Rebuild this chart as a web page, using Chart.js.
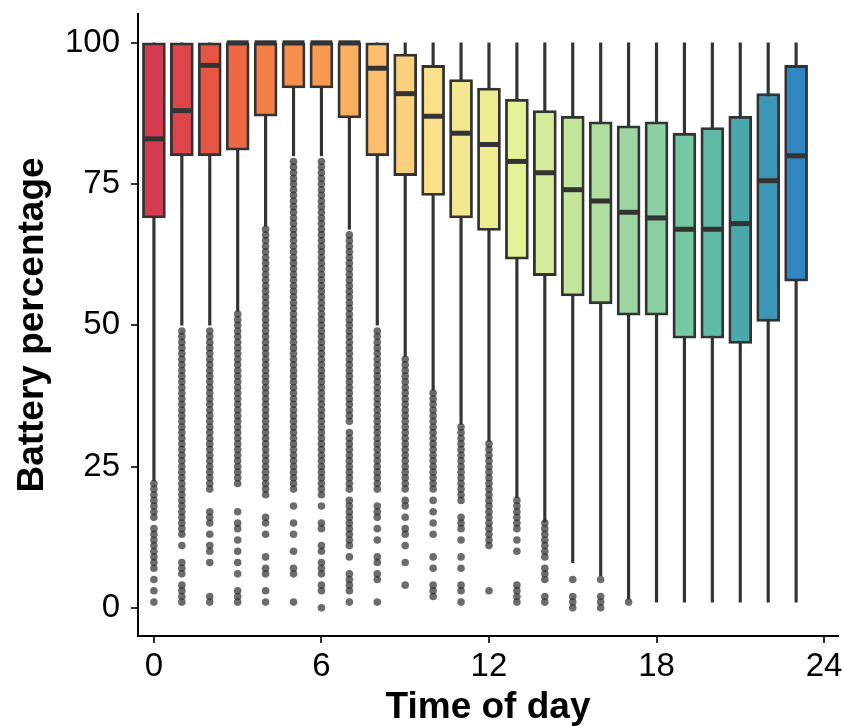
<!DOCTYPE html>
<html>
<head>
<meta charset="utf-8">
<script src="https://cdn.jsdelivr.net/npm/chart.js@4"></script>
<style>
  body { margin: 0; background: #fff; }
</style>
</head>
<body>
<canvas id="chart" width="844" height="726"></canvas>
<script>
// hour of day
const hours = [0, 1, 2, 3, 4, 5, 6, 7, 8, 9, 10, 11, 12, 13, 14, 15, 16, 17, 18, 19, 20, 21, 22, 23];

// box statistics per hour (battery %)
const upperWhisker = [100, 100, 100, 100, 100, 100, 100, 100, 100, 100, 100, 100, 100, 100, 100, 100, 100, 100, 100, 100, 100, 100, 100, 100];
const q3 = [100, 100, 100, 100, 100, 100, 100, 100, 100, 98, 96, 93.5, 92, 90, 88, 87, 86, 85.3, 86, 84, 85, 87, 91, 96];
const median = [83, 88, 96, 100, 100, 100, 100, 100, 95.5, 91, 87, 84, 82, 79, 77, 74, 72, 70, 69, 67, 67, 68, 75.6, 80];
const q1 = [69, 80, 80, 81, 87, 92, 92, 86.7, 80, 76.5, 73, 69, 66.8, 61.7, 58.8, 55.2, 53.8, 51.8, 51.8, 47.7, 47.7, 46.8, 50.7, 57.8];
const lowerWhisker = [22.5, 50, 50, 52.5, 67.5, 80, 80, 67, 50, 44.5, 38.5, 32.5, 29.5, 19.5, 15.2, 8, 5.7, 1.5, 1, 1, 1, 1, 1, 1];

// outliers per hour
const out0 = [22, 21, 20, 19, 18, 17, 16, 14, 13, 12, 11, 10, 9, 8, 7, 5, 3, 1];
const out1 = [49, 48, 47, 46, 45, 44, 43, 42, 41, 40, 39, 38, 37, 36, 35, 34, 33, 32, 31, 30, 29, 28, 27, 26, 25, 24, 23, 22, 21, 20, 19, 18, 17, 16, 15, 14, 13, 11, 8, 7, 6, 4, 3, 2, 1];
const out2 = [49, 48, 47, 46, 45, 44, 43, 42, 41, 40, 39, 38, 37, 36, 35, 34, 33, 32, 31, 30, 29, 28, 27, 26, 25, 24, 23, 22, 21, 17, 16, 15, 13, 11, 10, 8, 2, 1];
const out3 = [52, 51, 50, 49, 48, 47, 46, 45, 44, 43, 42, 41, 40, 39, 38, 37, 36, 35, 34, 33, 32, 31, 30, 29, 28, 27, 26, 25, 24, 23, 22, 17, 15, 14, 12, 10, 8, 6, 3, 2, 1];
const out4 = [67, 66, 65, 64, 63, 62, 61, 60, 59, 58, 57, 56, 55, 54, 53, 52, 51, 50, 49, 48, 47, 46, 45, 44, 43, 42, 41, 40, 39, 38, 37, 36, 35, 34, 33, 32, 31, 30, 29, 28, 27, 26, 25, 24, 23, 22, 21, 20, 16, 15, 13, 9, 7, 6, 3, 1];
const out5 = [79, 78, 77, 76, 75, 74, 73, 72, 71, 70, 69, 68, 67, 66, 65, 64, 63, 62, 61, 60, 59, 58, 57, 56, 55, 54, 53, 52, 51, 50, 49, 48, 47, 46, 45, 44, 43, 42, 41, 40, 39, 38, 37, 36, 35, 34, 33, 32, 31, 30, 29, 28, 27, 26, 25, 24, 23, 22, 21, 18, 15, 13, 10, 7, 6, 1];
const out6 = [79, 78, 77, 76, 75, 74, 73, 72, 71, 70, 69, 68, 67, 66, 65, 64, 63, 62, 61, 60, 59, 58, 57, 56, 55, 54, 53, 52, 51, 50, 49, 48, 47, 46, 45, 44, 43, 42, 41, 40, 39, 38, 37, 36, 35, 34, 33, 32, 31, 30, 29, 28, 27, 26, 25, 24, 23, 22, 21, 20, 18, 15, 14, 11, 10, 8, 7, 6, 4, 3, 0];
const out7 = [66, 65, 64, 63, 62, 61, 60, 59, 58, 57, 56, 55, 54, 53, 52, 51, 50, 49, 48, 47, 46, 45, 44, 43, 42, 41, 40, 39, 38, 37, 36, 35, 34, 33, 31, 30, 29, 28, 27, 26, 25, 24, 23, 22, 21, 19, 18, 17, 16, 15, 14, 13, 12, 11, 9, 6, 5, 4, 3, 1];
const out8 = [49, 48, 47, 46, 45, 44, 43, 42, 41, 40, 39, 38, 37, 36, 35, 34, 33, 32, 31, 30, 29, 28, 27, 26, 25, 24, 23, 22, 21, 18, 17, 16, 14, 12, 9, 8, 6, 5, 1];
const out9 = [44, 43, 42, 41, 40, 39, 38, 37, 36, 35, 34, 33, 32, 31, 30, 29, 28, 27, 26, 25, 24, 23, 22, 21, 19, 18, 16, 14, 13, 11, 8, 4];
const out10 = [38, 37, 36, 35, 34, 33, 32, 31, 30, 29, 28, 27, 26, 25, 24, 23, 22, 21, 19, 17, 15, 13, 9, 7, 4, 3, 2];
const out11 = [32, 31, 30, 29, 28, 27, 26, 25, 24, 23, 22, 21, 20, 19, 16, 15, 14, 12, 9, 7, 4, 3, 1];
const out12 = [29, 28, 27, 26, 25, 24, 23, 22, 21, 20, 19, 18, 17, 16, 15, 14, 13, 12, 11, 3];
const out13 = [19, 18, 17, 16, 15, 14, 12, 10, 4, 3, 2, 1];
const out14 = [15, 14, 13, 12, 11, 10, 9, 7, 6, 5, 2, 1];
const out15 = [5, 2, 1, 0];
const out16 = [5, 2, 1, 0];
const out17 = [1];
const outliers = [out0, out1, out2, out3, out4, out5, out6, out7, out8, out9, out10, out11,
  out12, out13, out14, out15, out16, out17, [], [], [], [], [], []];

const boxColors = ['#d53c50', '#dc464b', '#e55542', '#ee6843', '#f47f46', '#f88e4b', '#f99a50', '#fbae5f',
  '#fdbf6d', '#fdd07d', '#f9df88', '#f3e78f', '#eeeb91', '#e4f398', '#d5eb99', '#c4e69b',
  '#b0dda0', '#9dd6a3', '#8bd1a3', '#75c8a5', '#5fbaa7', '#4aa9ab', '#3d96b6', '#2f86c0'];

const xTicks = [0, 6, 12, 18, 24];
const yTicks = [0, 25, 50, 75, 100];

const outlierPoints = [];
outliers.forEach((list, i) => {
  list.forEach(v => outlierPoints.push({ x: hours[i], y: v }));
});

const ctx = document.getElementById('chart').getContext('2d');
new Chart(ctx, {
  type: 'bar',
  data: {
    datasets: [
      {
        type: 'scatter',
        data: hours.map((h, i) => ({ x: h, y: median[i] })),
        pointStyle: 'line',
        pointRadius: 11,
        borderWidth: 5,
        borderColor: '#333333',
        order: 0
      },
      {
        data: hours.map((h, i) => ({ x: h, y: [q1[i], q3[i]] })),
        backgroundColor: boxColors,
        borderColor: '#333333',
        borderWidth: 2.8,
        borderSkipped: false,
        barThickness: 23,
        grouped: false,
        order: 1
      },
      {
        data: hours.map((h, i) => ({ x: h, y: [lowerWhisker[i], upperWhisker[i]] })),
        backgroundColor: '#333333',
        borderWidth: 0,
        barThickness: 2.5,
        grouped: false,
        order: 2
      },
      {
        type: 'scatter',
        data: outlierPoints,
        pointRadius: 3.8,
        pointBorderWidth: 0,
        backgroundColor: 'rgba(45,45,45,0.7)',
        order: 3
      }
    ]
  },
  options: {
    responsive: false,
    animation: false,
    layout: { autoPadding: false, padding: { top: 14, right: 6, left: 0, bottom: 0 } },
    plugins: {
      legend: { display: false },
      tooltip: { enabled: false }
    },
    scales: {
      x: {
        type: 'linear',
        offset: false,
        min: -0.57,
        max: 24.5,
        afterBuildTicks: s => { s.ticks = xTicks.map(v => ({ value: v })); },
        afterFit: s => { s.height = 90; s.paddingLeft = 0; s.paddingRight = 0; },
        grid: { offset: false, drawOnChartArea: false, drawTicks: true, tickLength: 7, color: '#333333', lineWidth: 2 },
        border: { display: true, color: '#000000', width: 2 },
        ticks: { color: '#000000', padding: 4, font: { family: 'Liberation Sans', size: 33 } },
        title: {
          display: true,
          text: 'Time of day',
          color: '#000000',
          padding: { top: 0, bottom: 0 },
          font: { family: 'Liberation Sans', size: 37, weight: 'bold', lineHeight: 1 }
        }
      },
      y: {
        min: -5,
        max: 105.1,
        afterBuildTicks: s => { s.ticks = yTicks.map(v => ({ value: v })); },
        afterFit: s => { s.width = 138; s.paddingTop = 0; s.paddingBottom = 0; },
        grid: { drawOnChartArea: false, drawTicks: true, tickLength: 7, color: '#333333', lineWidth: 2 },
        border: { display: true, color: '#000000', width: 2 },
        ticks: { color: '#000000', padding: 11, font: { family: 'Liberation Sans', size: 33 } },
        title: {
          display: true,
          text: 'Battery percentage',
          color: '#000000',
          padding: { top: 14, bottom: 0 },
          font: { family: 'Liberation Sans', size: 37, weight: 'bold', lineHeight: 1 }
        }
      }
    }
  }
});
</script>
</body>
</html>
